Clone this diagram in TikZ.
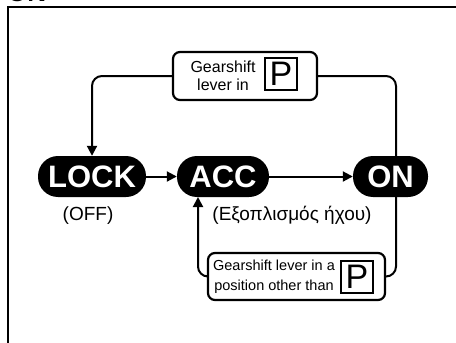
\documentclass[tikz,border=0pt]{standalone}
\usepackage{fontspec}
\setmainfont{Liberation Sans}
\usetikzlibrary{arrows.meta}
\tikzset{
  pill/.style={fill=black, text=white, font=\fontsize{31}{31}\selectfont\bfseries, minimum height=41pt, rounded corners=20pt, inner sep=0pt},
  condbox/.style={draw=black, line width=2.2pt, rounded corners=7pt, minimum height=48pt, inner sep=0pt, fill=white},
  pbox/.style={draw=black, line width=2pt, minimum width=32pt, minimum height=32pt, inner sep=0pt, font=\fontsize{34}{34}\selectfont},
  conn/.style={line width=2pt, rounded corners=10pt},
  tip/.style={-{Triangle[length=10pt,width=10pt]}},
  lbl/.style={font=\fontsize{19}{19}\selectfont, inner sep=0pt},
  btext/.style={align=center, inner sep=0pt}
}
\begin{document}
\begin{tikzpicture}[x=1pt,y=-1pt]
\useasboundingbox (0,0) rectangle (456,343);
\begin{scope}
\clip (0,0) rectangle (456,343);
\node[anchor=base west, inner sep=0pt, font=\fontsize{26}{26}\selectfont\bfseries] (title) at (7,1.5) {ON};
\draw[line width=2.6pt] (8,350) -- (8,7) -- (470,7);
\end{scope}
% coordinates
\coordinate (r) at (396,176.5);
\coordinate (accin) at (198,197);
% boxes
\node[condbox, minimum width=144pt] (top) at (245,76) {};
\node[btext, font=\fontsize{16}{18}\selectfont] (toptxt) at (223,76) {Gearshift\\lever in};
\node[pbox] (ptop) at (281,74) {P};
\node[condbox, minimum width=177pt, minimum height=47pt] (bot) at (296.5,276.5) {};
\node[btext, font=\fontsize{14.5}{20}\selectfont] (bottxt) at (274,277) {Gearshift lever in a\\position other than};
\node[pbox] (pbot) at (357,277) {P};
% connectors (behind pills)
\draw[conn] (top.east) -| (r) |- (bot.east);
% pills
\node[pill, minimum width=108pt] (lock) at (92,176.5) {LOCK};
\node[pill, minimum width=92pt] (acc) at (223,176.5) {ACC};
\node[pill, minimum width=75pt] (on) at (390.5,176.5) {ON};
\draw[conn, tip] (top.west) -| (lock.north);
\draw[conn, tip] (bot.west) -| (accin);
\draw[line width=2pt, tip] (lock.east) -- (acc.west);
\draw[line width=2pt, tip] (acc.east) -- (on.west);
% labels
\node[lbl] (off) at (88,216) {(OFF)};
\node[lbl] (greek) at (292,215) {(Εξοπλισμός ήχου)};
\end{tikzpicture}
\end{document}
